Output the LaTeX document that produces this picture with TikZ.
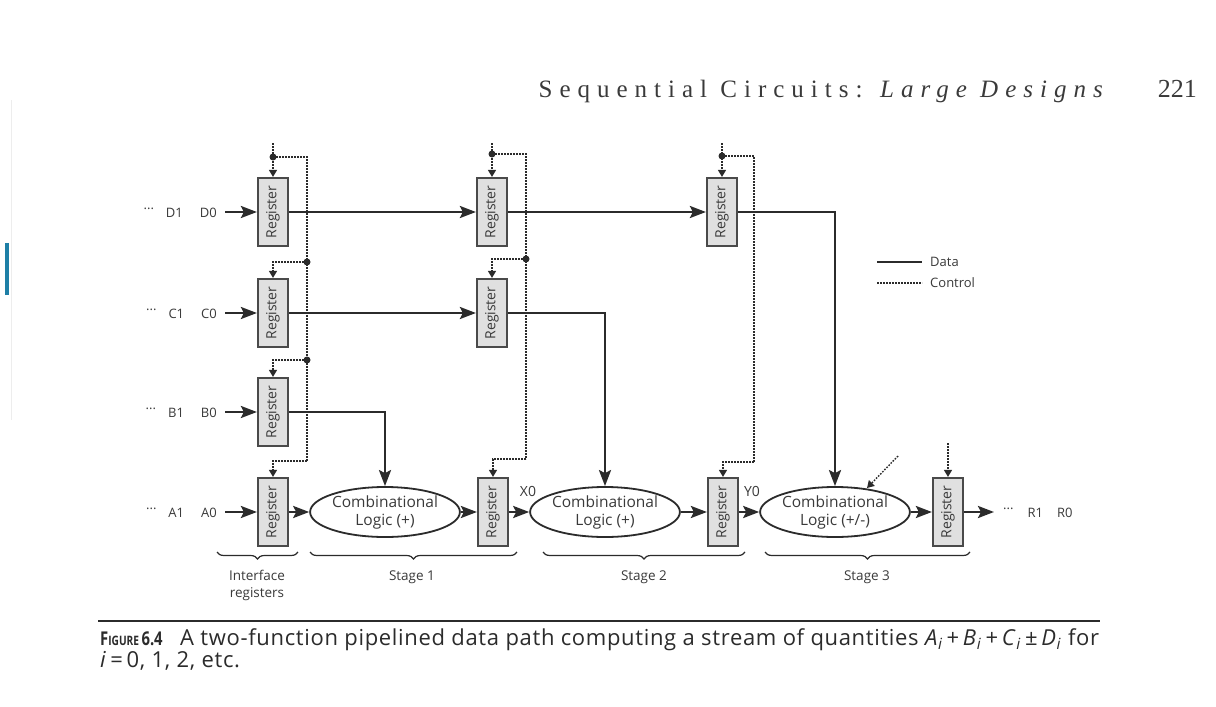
\documentclass[tikz,border=0pt]{standalone}
\usepackage{fontspec}
\usetikzlibrary{arrows.meta,decorations.pathreplacing,shapes.geometric,calc}
\newfontfamily\dfont{Open Sans}
\newfontfamily\cfont{Open Sans}[LetterSpace=3]
\newfontfamily\hfont{Liberation Serif}[LetterSpace=28]
\newfontfamily\pfont{Liberation Serif}
\definecolor{ink}{HTML}{2B2B2B}
\definecolor{txt}{HTML}{3A3A3A}
\definecolor{regfill}{HTML}{E0E0E0}
\definecolor{regline}{HTML}{4A4A4A}
\definecolor{barblue}{HTML}{1E7FA6}
\begin{document}
\begin{tikzpicture}[x=1pt,y=-1pt,
  reg/.style={draw=regline, line width=2.2pt, fill=regfill, minimum width=30pt,
    minimum height=68pt, inner sep=0pt, text=txt, font=\dfont\fontsize{14}{15}\selectfont},
  comb/.style={ellipse, draw=ink, line width=1.8pt, minimum width=135pt, minimum height=50pt,
    inner sep=0pt, align=center, text=txt, font=\dfont\fontsize{15.5}{18}\selectfont},
  lab/.style={text=txt, font=\dfont\fontsize{13}{15}\selectfont, inner sep=0pt},
  small/.style={text=txt, font=\dfont\fontsize{14}{16}\selectfont, inner sep=0pt},
  data/.style={draw=ink, line width=2.6pt, -{Stealth[length=16pt,width=12pt,inset=3pt]}},
  dline/.style={draw=ink, line width=2.4pt},
  ctrl/.style={draw=ink, line width=1.4pt, dash pattern=on 1.6pt off 1.4pt},
  ctrlarrow/.style={ctrl, -{Triangle[length=7pt,width=8pt]}},
  jdot/.style={circle, fill=ink, inner sep=0pt, minimum size=7pt},
  stagebrace/.style={draw=ink, line width=1.2pt, decorate,
    decoration={brace, amplitude=7pt, mirror}}
]
\useasboundingbox[fill=white] (0,0) rectangle (1216,707);

% margin marks
\fill[barblue] (5,243) rectangle (9,295);
\draw[black!7, line width=1pt] (11,100) -- (11,420);

% header
\node[anchor=base east, inner sep=0pt, text=txt, font=\hfont\fontsize{25}{30}\selectfont] (hdr) at (1110,97)
  {Sequential Circuits: \textit{Large Designs}};
\node[anchor=base east, inner sep=0pt, text=txt, font=\pfont\fontsize{26}{30}\selectfont] (pg) at (1197,97) {221};

% registers
\node[reg] (rD1) at (273,212) {\rotatebox{90}{Register}};
\node[reg] (rC1) at (273,313) {\rotatebox{90}{Register}};
\node[reg] (rB1) at (273,412) {\rotatebox{90}{Register}};
\node[reg] (rA1) at (273,512) {\rotatebox{90}{Register}};
\node[reg] (rD2) at (492,212) {\rotatebox{90}{Register}};
\node[reg] (rC2) at (492,313) {\rotatebox{90}{Register}};
\node[reg] (rA2) at (493,512) {\rotatebox{90}{Register}};
\node[reg] (rD3) at (722,212) {\rotatebox{90}{Register}};
\node[reg] (rA3) at (723,512) {\rotatebox{90}{Register}};
\node[reg] (rR)  at (948,512) {\rotatebox{90}{Register}};

% combinational logic
\node[comb] (e1) at (385,512) {Combinational\\Logic (+)};
\node[comb] (e2) at (605,512) {Combinational\\Logic (+)};
\node[comb] (e3) at (835,512) {Combinational\\Logic (+/-)};

% input labels
\node[lab, anchor=base east] (inD) at (217,217) {\raisebox{8pt}{\fontsize{13}{13}\selectfont...}\hspace{12pt}D1\hspace{17pt}D0};
\node[lab, anchor=base east] (inC) at (217,318) {\raisebox{8pt}{\fontsize{13}{13}\selectfont...}\hspace{12pt}C1\hspace{17pt}C0};
\node[lab, anchor=base east] (inB) at (217,417) {\raisebox{8pt}{\fontsize{13}{13}\selectfont...}\hspace{12pt}B1\hspace{17pt}B0};
\node[lab, anchor=base east] (inA) at (217,517) {\raisebox{8pt}{\fontsize{13}{13}\selectfont...}\hspace{12pt}A1\hspace{17pt}A0};
\node[lab, anchor=base west] (outR) at (1003,517) {\raisebox{8pt}{\fontsize{13}{13}\selectfont...}\hspace{14pt}R1\hspace{14pt}R0};

\coordinate (iD) at (225,212);
\coordinate (iC) at (225,313);
\coordinate (iB) at (225,412);
\coordinate (iA) at (225,512);
\coordinate (oR) at (994,512);

% data paths
\draw[data] (iD) -- (rD1.west);
\draw[data] (iC) -- (rC1.west);
\draw[data] (iB) -- (rB1.west);
\draw[data] (iA) -- (rA1.west);
\draw[data] (rD1.east) -- (rD2.west);
\draw[data] (rD2.east) -- (rD3.west);
\draw[data] (rD3.east) -| (e3.north);
\draw[data] (rC1.east) -- (rC2.west);
\draw[data] (rC2.east) -| (e2.north);
\draw[data] (rB1.east) -| (e1.north);
\draw[data] (rA1.east) -- (e1.west);
\draw[data] (e1.east) -- (rA2.west);
\draw[data] (rA2.east) -- (e2.west);
\draw[data] (e2.east) -- (rA3.west);
\draw[data] (rA3.east) -- (e3.west);
\draw[data] (e3.east) -- (rR.west);
\draw[data] (rR.east) -- (oR);

\node[small] (x0) at (528,491) {X0};
\node[small] (y0) at (752,491) {Y0};

% control column 1
\coordinate (c1t) at (273,143);
\node[jdot] (d1a) at (273,157) {};
\coordinate (k1a) at (307,157);
\node[jdot] (d1b) at (307,262) {};
\node[jdot] (d1c) at (307,360) {};
\coordinate (k1d) at (307,461);
\coordinate (k1e) at (273,461);
\coordinate (k1b) at (273,262);
\coordinate (k1c) at (273,360);
\draw[ctrlarrow] (c1t) -- (rD1.north);
\draw[ctrl] (d1a.center) -- (k1a) -- (d1b.center) -- (d1c.center) -- (k1d);
\draw[ctrlarrow] (k1d) -- (k1e) -- (rA1.north);
\draw[ctrlarrow] (d1b.center) -- (k1b) -- (rC1.north);
\draw[ctrlarrow] (d1c.center) -- (k1c) -- (rB1.north);

% control column 2
\coordinate (c2t) at (492,143);
\node[jdot] (d2a) at (492,154) {};
\coordinate (k2a) at (526,154);
\node[jdot] (d2b) at (526,259) {};
\coordinate (k2b) at (492,259);
\coordinate (k2d) at (526,459);
\coordinate (k2e) at (493,459);
\draw[ctrlarrow] (c2t) -- (rD2.north);
\draw[ctrl] (d2a.center) -- (k2a) -- (d2b.center) -- (k2d);
\draw[ctrlarrow] (k2d) -- (k2e) -- (rA2.north);
\draw[ctrlarrow] (d2b.center) -- (k2b) -- (rC2.north);

% control column 3
\coordinate (c3t) at (722,143);
\node[jdot] (d3a) at (722,156) {};
\coordinate (k3a) at (754,156);
\coordinate (k3d) at (754,462);
\coordinate (k3e) at (723,462);
\draw[ctrlarrow] (c3t) -- (rD3.north);
\draw[ctrl] (d3a.center) -- (k3a) -- (k3d);
\draw[ctrlarrow] (k3d) -- (k3e) -- (rA3.north);

% control column 4 and function select
\coordinate (c4t) at (948,443);
\draw[ctrlarrow] (c4t) -- (rR.north);
\coordinate (fs) at (898,456);
\coordinate (fe) at (867,488);
\draw[ctrlarrow] (fs) -- (fe);

% braces
\coordinate (b0a) at (217,552); \coordinate (b0b) at (298,552);
\coordinate (b1a) at (310,552); \coordinate (b1b) at (517,552);
\coordinate (b2a) at (543,552); \coordinate (b2b) at (745,552);
\coordinate (b3a) at (765,552); \coordinate (b3b) at (970,552);
\draw[stagebrace] (b0a) -- (b0b);
\draw[stagebrace] (b1a) -- (b1b);
\draw[stagebrace] (b2a) -- (b2b);
\draw[stagebrace] (b3a) -- (b3b);
\node[lab, align=center, font=\dfont\fontsize{13.5}{17}\selectfont] (lif) at (257,585) {Interface\\registers};
\node[lab, font=\dfont\fontsize{13.5}{15}\selectfont] (ls1) at (412,577) {Stage 1};
\node[lab, font=\dfont\fontsize{13.5}{15}\selectfont] (ls2) at (644,577) {Stage 2};
\node[lab, font=\dfont\fontsize{13.5}{15}\selectfont] (ls3) at (867,577) {Stage 3};

% legend
\coordinate (lg1a) at (877,262); \coordinate (lg1b) at (922,262);
\coordinate (lg2a) at (877,283); \coordinate (lg2b) at (922,283);
\draw[dline, line width=2pt] (lg1a) -- (lg1b);
\draw[ctrl] (lg2a) -- (lg2b);
\node[small, anchor=west, font=\dfont\fontsize{13}{15}\selectfont] (lgd) at (930,262) {Data};
\node[small, anchor=west, font=\dfont\fontsize{13}{15}\selectfont] (lgc) at (930,283) {Control};

% caption
\draw[ink, line width=2pt] (98,621) -- (1100,621);
\node[anchor=base west, inner sep=0pt, text=ink, font=\dfont\bfseries\fontsize{19}{22}\selectfont] (fig) at (100,645)
  {\scalebox{0.78}[1]{F{\fontsize{13}{14}\selectfont IGURE}\,6.4}};
\node[anchor=base west, inner sep=0pt, text=ink, font=\cfont\fontsize{22}{24}\selectfont] (cap1) at (180,645)
  {A two-function pipelined data path computing a stream of quantities \textit{A}\textsubscript{\textit{i}}\,+\,\textit{B}\textsubscript{\textit{i}}\,+\,\textit{C}\textsubscript{\textit{i}}\,±\,\textit{D}\textsubscript{\textit{i}} for};
\node[anchor=base west, inner sep=0pt, text=ink, font=\cfont\fontsize{22}{24}\selectfont] (cap2) at (100,667)
  {\textit{i}\,=\,0, 1, 2, etc.};
\end{tikzpicture}
\end{document}
